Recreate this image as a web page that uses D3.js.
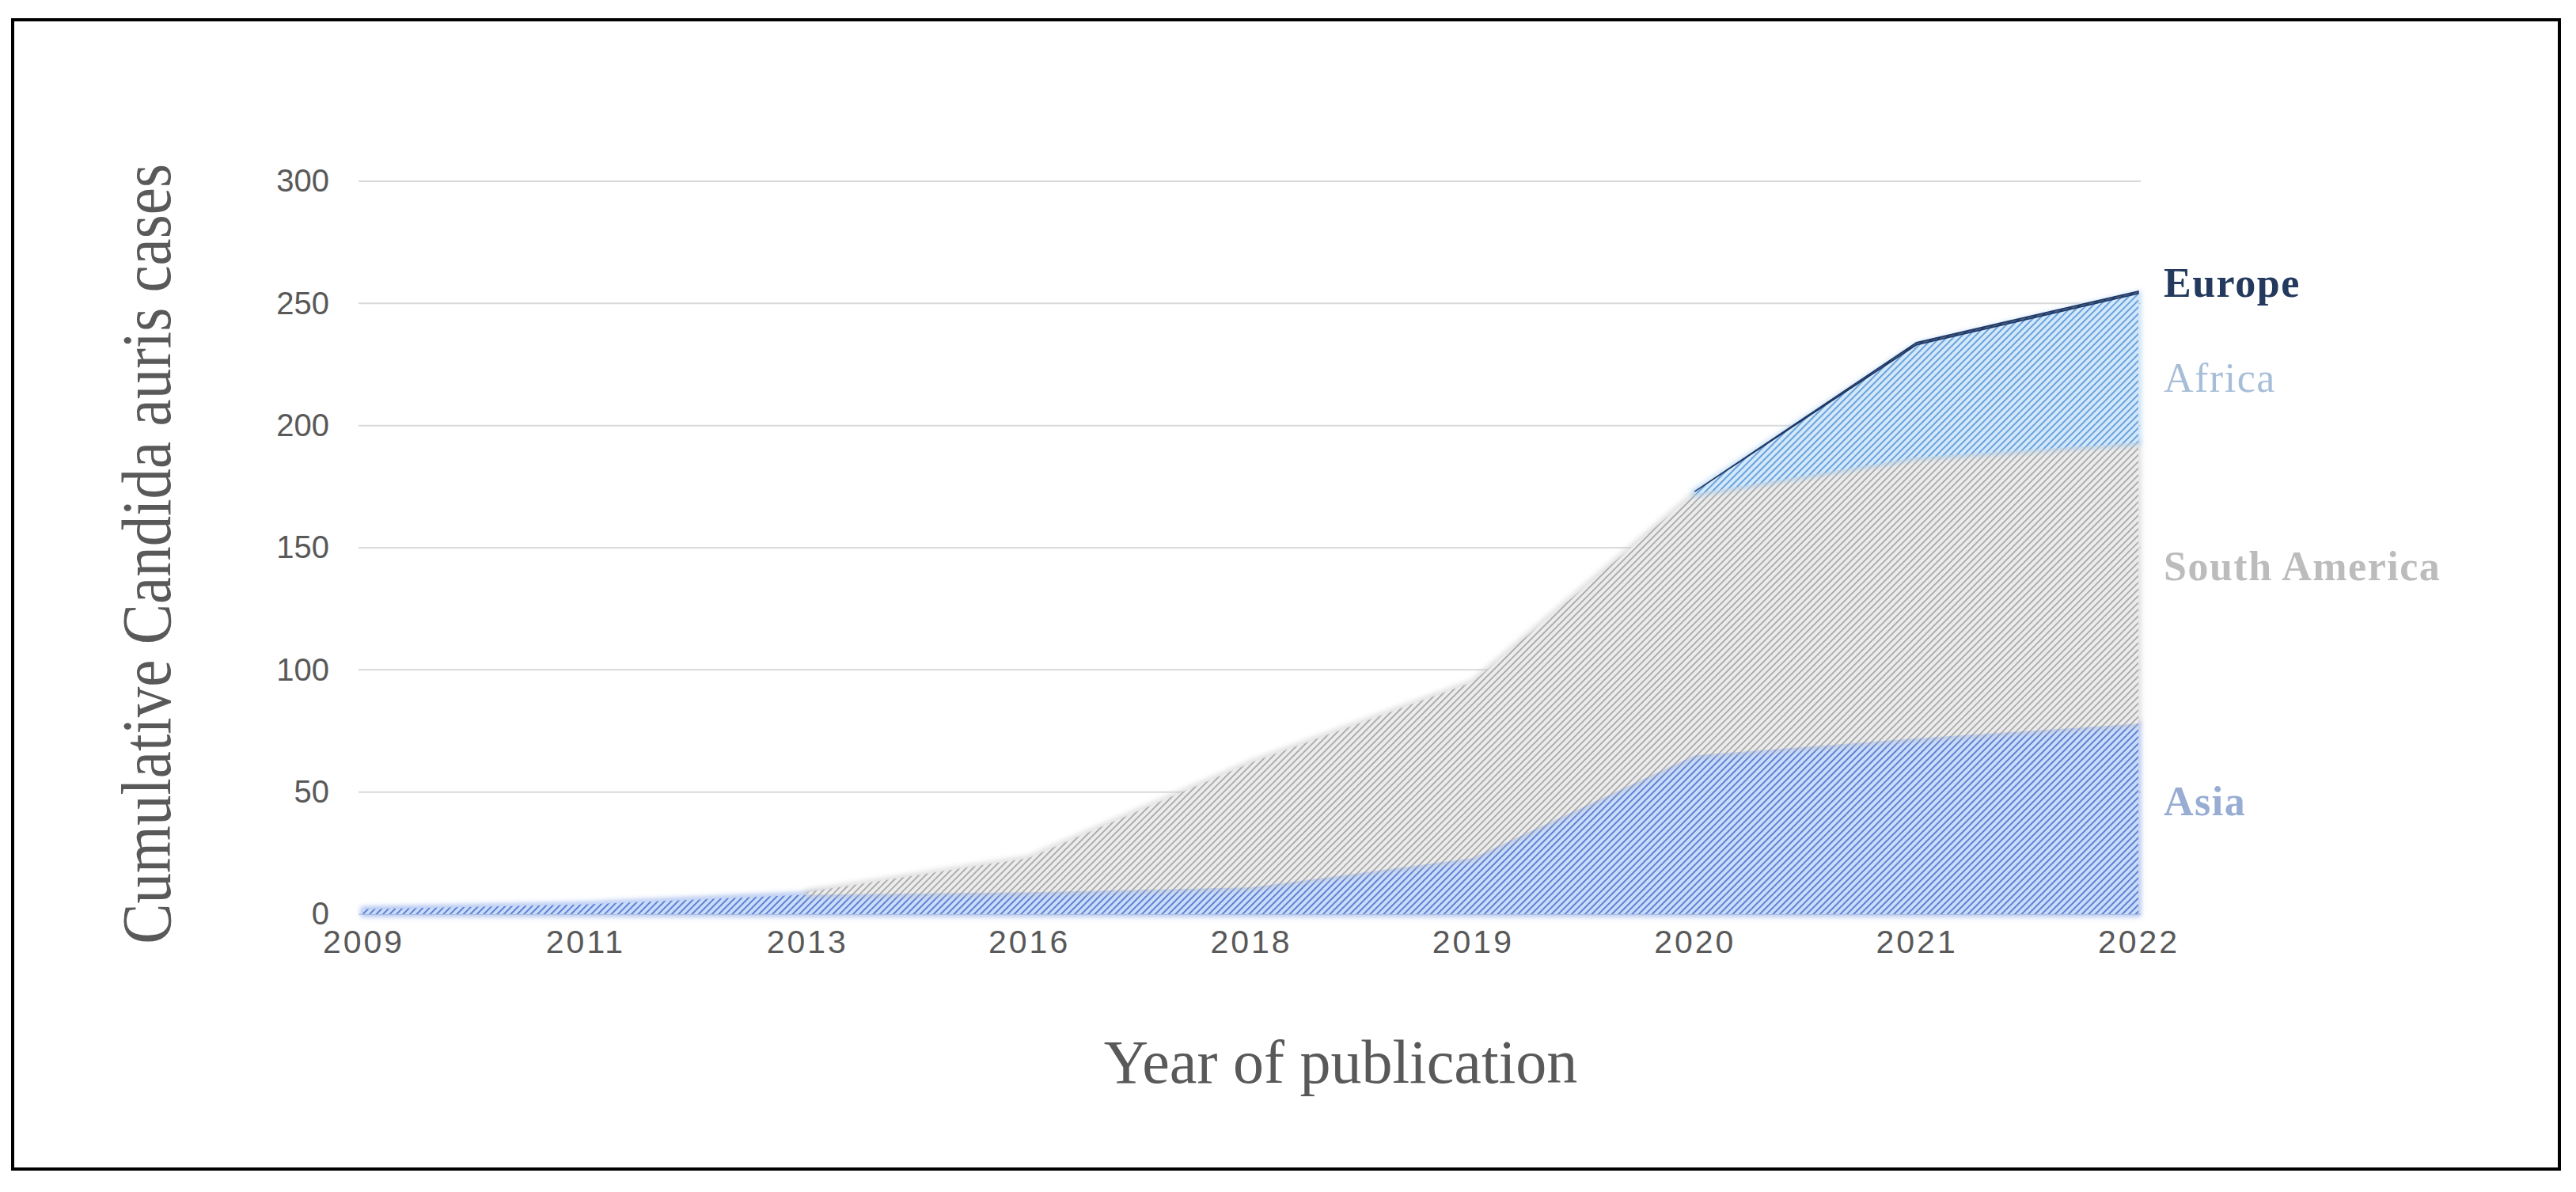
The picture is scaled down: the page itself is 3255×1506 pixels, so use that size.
<!DOCTYPE html>
<html>
<head>
<meta charset="utf-8">
<script src="https://cdn.jsdelivr.net/npm/d3@7"></script>
<style>
  body { margin: 0; background: #fff; }
  svg { display: block; }
</style>
</head>
<body>
<div id="chart"></div>
<script>
// data (cumulative cases, stacked by region)
const years = ["2009", "2011", "2013", "2016", "2018", "2019", "2020", "2021", "2022"];
const asia = [2, 4, 8, 9, 11, 23, 65, 72, 78];
const southAmerica = [0, 0, 1, 14, 51, 72, 107, 115, 115];
const africa = [0, 0, 0, 0, 0, 0, 1, 46, 61];
const europe = [0, 0, 0, 0, 0, 0, 0, 1, 1];
const regions = ["Asia", "South America", "Africa", "Europe"];
const yTicks = [0, 50, 100, 150, 200, 250, 300];

const width = 3255, height = 1506;

const values = { "Asia": asia, "South America": southAmerica, "Africa": africa, "Europe": europe };
const rows = years.map((y, i) => {
  const row = { year: y };
  regions.forEach(r => row[r] = values[r][i]);
  return row;
});

const svg = d3.select("#chart").append("svg")
  .attr("width", width)
  .attr("height", height)
  .attr("viewBox", [0, 0, width, height]);

// outer frame
svg.append("rect")
  .attr("x", 16).attr("y", 25)
  .attr("width", 3218).attr("height", 1452)
  .attr("fill", "#fff")
  .attr("stroke", "#000")
  .attr("stroke-width", 4);

const xScale = d3.scalePoint()
  .domain(years)
  .range([459, 2702]);

const yScale = d3.scaleLinear()
  .domain([0, 300])
  .range([1155, 229]);

// hatch patterns, one per region
const styles = {
  "Asia":          { bg: "#cadcfb", line: "#5478cc", edge: "#7d9ee6", label: "#98acd4", weight: "bold" },
  "South America": { bg: "#ececec", line: "#a8a8a8", edge: "#c8c8c8", label: "#bcbcbc", weight: "bold" },
  "Africa":        { bg: "#d3e8fb", line: "#5f9bd8", edge: "#9cc8f0", label: "#a7bed8", weight: "normal" },
  "Europe":        { bg: "#4a6188", line: "#1f3864", edge: "#1f3864", label: "#23395d", weight: "bold" }
};

const defs = svg.append("defs");
regions.forEach((r, i) => {
  const p = defs.append("pattern")
    .attr("id", "hatch" + i)
    .attr("patternUnits", "userSpaceOnUse")
    .attr("width", 6).attr("height", 6)
    .attr("patternTransform", "rotate(45)");
  p.append("rect").attr("width", 6).attr("height", 6).attr("fill", styles[r].bg);
  p.append("rect").attr("x", 0).attr("width", 1.8).attr("height", 6).attr("fill", styles[r].line);
});
defs.append("filter").attr("id", "soft")
  .attr("x", "-5%").attr("y", "-5%").attr("width", "110%").attr("height", "110%")
  .append("feGaussianBlur").attr("stdDeviation", 3);

// gridlines
svg.append("g")
  .selectAll("line")
  .data(yTicks)
  .enter()
  .append("line")
  .attr("x1", 453).attr("x2", 2705)
  .attr("y1", d => yScale(d)).attr("y2", d => yScale(d))
  .attr("stroke", "#d9d9d9")
  .attr("stroke-width", 2);

// y axis (labels only)
svg.append("g")
  .attr("transform", "translate(438,0)")
  .call(d3.axisLeft(yScale).tickValues(yTicks).tickSize(0).tickPadding(22))
  .call(g => g.select(".domain").remove())
  .call(g => g.selectAll("text")
    .attr("font-family", "Liberation Sans, Arial, sans-serif")
    .attr("font-size", 40)
    .attr("fill", "#595959"));

// x axis (labels only)
svg.append("g")
  .attr("transform", "translate(0,1155)")
  .call(d3.axisBottom(xScale).tickSize(0).tickPadding(20))
  .call(g => g.select(".domain").remove())
  .call(g => g.selectAll("text")
    .attr("font-family", "Liberation Sans, Arial, sans-serif")
    .attr("font-size", 41)
    .attr("letter-spacing", 3)
    .attr("fill", "#595959"));

// stacked areas
const series = d3.stack().keys(regions)(rows);

// layers are drawn only from where they start, so zero-thickness layers
// don't trace the top of the stack (Europe keeps one extra segment for its line)
const firstIndex = r => Math.max(0, values[r].findIndex(v => v > 0) - (r === "Europe" ? 1 : 0));

const layers = svg.append("g");
series.forEach((s, i) => {
  const r = regions[i];
  const start = firstIndex(r);
  const gen = d3.area()
    .defined((d, j) => j >= start)
    .x(d => xScale(d.data.year))
    .y0(d => yScale(d[0]))
    .y1(d => yScale(d[1]));
  if (r !== "Europe") {
    layers.append("path")
      .datum(s)
      .attr("d", gen)
      .attr("fill", "none")
      .attr("stroke", styles[r].edge)
      .attr("stroke-width", 6)
      .attr("stroke-opacity", 0.7)
      .attr("filter", "url(#soft)");
  }
  layers.append("path")
    .datum(s)
    .attr("d", gen)
    .attr("fill", `url(#hatch${i})`)
    .attr("stroke", r === "Europe" ? styles[r].line : "none")
    .attr("stroke-width", 1.5);
});

// region labels at the right end
const labelPos = {
  "Europe": 375,
  "Africa": 495,
  "South America": 733,
  "Asia": 1030
};
svg.append("g")
  .selectAll("text")
  .data(regions)
  .enter()
  .append("text")
  .attr("x", 2734)
  .attr("y", d => labelPos[d])
  .attr("font-family", "Liberation Serif, Times New Roman, serif")
  .attr("font-size", 52)
  .attr("font-weight", d => styles[d].weight)
  .attr("letter-spacing", 1.5)
  .attr("fill", d => styles[d].label)
  .text(d => d);

// axis titles
svg.append("text")
  .attr("transform", "translate(215,700) rotate(-90) scale(1,1.15)")
  .attr("text-anchor", "middle")
  .attr("font-family", "Liberation Serif, Times New Roman, serif")
  .attr("font-size", 77)
  .attr("fill", "#595959")
  .text("Cumulative Candida auris cases");

svg.append("text")
  .attr("x", 1694)
  .attr("y", 1368)
  .attr("text-anchor", "middle")
  .attr("font-family", "Liberation Serif, Times New Roman, serif")
  .attr("font-size", 78)
  .attr("fill", "#595959")
  .text("Year of publication");
</script>
</body>
</html>
